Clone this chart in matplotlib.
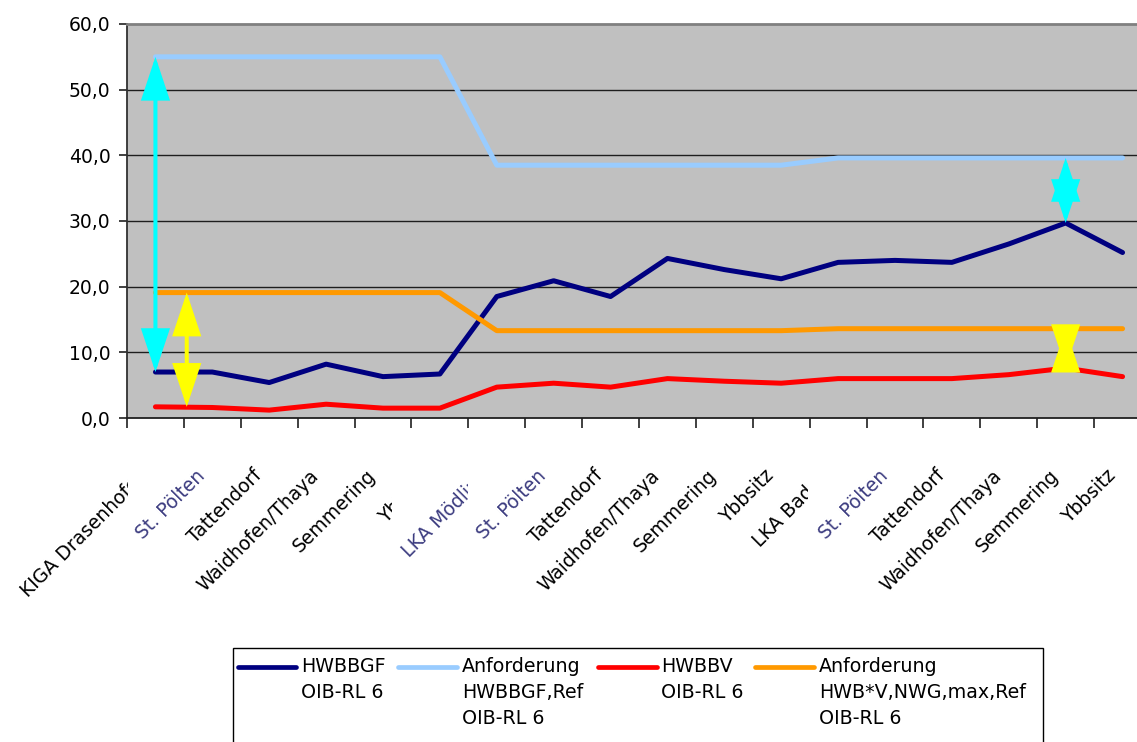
import matplotlib as mpl
mpl.use('Agg')
import matplotlib.pyplot as plt
import matplotlib.transforms as mtransforms
from matplotlib.lines import Line2D
from matplotlib.patches import Rectangle

# sites along the x axis (some are cut off in the original chart)
sites = ['KIGA Drasenhofen', 'St. Pölten', 'Tattendorf', 'Waidhofen/Thaya', 'Semmering', 'Ybbsitz',
         'LKA Mödling', 'St. Pölten', 'Tattendorf', 'Waidhofen/Thaya', 'Semmering', 'Ybbsitz',
         'LKA Baden', 'St. Pölten', 'Tattendorf', 'Waidhofen/Thaya', 'Semmering', 'Ybbsitz']
blurred = [1, 6, 7, 13]                   # these labels are pasted images in the source
clipped = {0: -0.48, 5: 4.15, 6: 5.5, 12: 11.47}   # label visible up to this x

hwbbgf = [7.0, 7.0, 5.4, 8.2, 6.3, 6.7, 18.5, 20.9, 18.5, 24.3, 22.6, 21.2,
          23.7, 24.0, 23.7, 26.5, 29.7, 25.2]
req_hwbbgf = [55.0, 55.0, 55.0, 55.0, 55.0, 55.0, 38.5, 38.5, 38.5, 38.5, 38.5, 38.5,
              39.6, 39.6, 39.6, 39.6, 39.6, 39.6]
hwbbv = [1.7, 1.6, 1.2, 2.1, 1.5, 1.5, 4.7, 5.3, 4.7, 6.0, 5.6, 5.3,
         6.0, 6.0, 6.0, 6.6, 7.6, 6.3]
req_hwbv = [19.1, 19.1, 19.1, 19.1, 19.1, 19.1, 13.3, 13.3, 13.3, 13.3, 13.3, 13.3,
            13.6, 13.6, 13.6, 13.6, 13.6, 13.6]

yticks = [0, 10, 20, 30, 40, 50, 60]

legend_labels = [['HWBBGF', 'OIB-RL 6'],
                 ['Anforderung', 'HWBBGF,Ref', 'OIB-RL 6'],
                 ['HWBBV', 'OIB-RL 6'],
                 ['Anforderung', 'HWB*V,NWG,max,Ref', 'OIB-RL 6']]

c_navy = '#000080'
c_light = '#99CCFF'
c_red = '#FF0000'
c_orange = '#FF9900'

plt.rcParams['font.family'] = ['DejaVu Sans']
W, H = 1137, 742
fig = plt.figure(figsize=(W / 100, H / 100), dpi=100)
fig.set_facecolor('white')
ax = fig.add_axes([127 / W, (H - 418) / H, 1024 / W, 394 / H])
ax.set_facecolor('#C0C0C0')

x = list(range(len(sites)))
lw = 3.6
ax.plot(x, hwbbgf, color=c_navy, lw=lw, solid_capstyle='round', zorder=3)
ax.plot(x, req_hwbbgf, color=c_light, lw=lw, solid_capstyle='round', zorder=3)
ax.plot(x, hwbbv, color=c_red, lw=lw, solid_capstyle='round', zorder=3)
ax.plot(x, req_hwbv, color=c_orange, lw=lw, solid_capstyle='round', zorder=3)

ax.set_xlim(-0.5, len(sites) - 0.5)
ax.set_ylim(0, 60)
ax.set_yticks(yticks)
ax.set_yticklabels([('%.1f' % v).replace('.', ',') for v in yticks], fontsize=13.5)
for v in yticks[1:-1]:
    ax.axhline(v, color='#1e1e1e', lw=1.0, zorder=1)

ax.set_xticks([i - 0.5 for i in range(len(sites) + 1)])
ax.set_xticklabels([])
ax.tick_params(axis='x', direction='out', length=7, width=1.2, color='#202020')
ax.tick_params(axis='y', direction='out', length=6, width=1.2, color='#202020', pad=6)

ax.spines['top'].set_color('#808080')
ax.spines['top'].set_linewidth(2)
ax.spines['left'].set_color('#303030')
ax.spines['left'].set_linewidth(1.3)
ax.spines['bottom'].set_color('#202020')
ax.spines['bottom'].set_linewidth(1.3)
ax.spines['right'].set_visible(False)

# rotated category labels
off = mtransforms.ScaledTranslation(-17 / 100, -48 / 100, fig.dpi_scale_trans)
trans = ax.get_xaxis_transform() + off
for i, lab in enumerate(sites):
    col = '#3c3c80' if i in blurred else 'black'
    t = ax.text(i, 0, lab, transform=trans, rotation=45, rotation_mode='anchor',
                ha='right', va='top', fontsize=13.5, color=col, clip_on=False)
    if i in clipped:
        box = mtransforms.TransformedBbox(
            mtransforms.Bbox([[-5, -5], [clipped[i], 1]]), ax.get_xaxis_transform())
        t.set_clip_box(box)
        t.set_clip_on(True)

# double arrows between requirement and value
def double_arrow(xp, y0, y1, color):
    ax.annotate('', xy=(xp, y1), xytext=(xp, y0),
                arrowprops=dict(arrowstyle='<|-|>,head_length=25.5,head_width=8.5',
                                color=color, lw=2.9, shrinkA=0, shrinkB=0,
                                mutation_scale=1, joinstyle='miter'),
                zorder=4)

double_arrow(0, req_hwbbgf[0], hwbbgf[0], '#00FFFF')
double_arrow(0.55, req_hwbv[0], hwbbv[0], '#FFFF00')
double_arrow(16, req_hwbbgf[16], hwbbgf[16], '#00FFFF')
double_arrow(16, req_hwbv[16], hwbbv[16], '#FFFF00')

# legend drawn by hand (box is cut by the lower image edge)
fig.add_artist(Rectangle((233 / W, -0.05), (1043 - 233) / W, 0.05 + (H - 648) / H,
                         transform=fig.transFigure, facecolor='white',
                         edgecolor='black', lw=1))
handles = [(238, 296), (398, 457), (598, 657), (755, 814)]
text_x = [301, 462, 661, 819]
colors = [c_navy, c_light, c_red, c_orange]
line_y = [667, 693, 719]
for (h0, h1), tx, col, labs in zip(handles, text_x, colors, legend_labels):
    fig.add_artist(Line2D([h0 / W, h1 / W], [1 - line_y[0] / H, 1 - line_y[0] / H],
                          transform=fig.transFigure, color=col, lw=3.4,
                          solid_capstyle='round'))
    for k, s in enumerate(labs):
        fig.text(tx / W, 1 - line_y[k] / H, s, fontsize=13.7, va='center', ha='left')

fig.savefig('out.png', dpi=100)
